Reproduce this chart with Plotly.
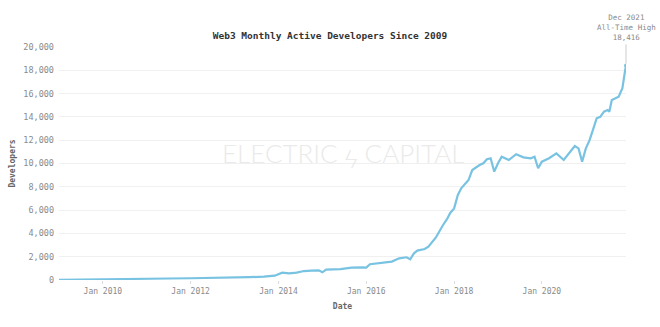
import plotly.graph_objects as go

dates = [
    "2009-01-01", "2009-07-01", "2010-01-01", "2010-07-01", "2011-01-01", "2011-07-01",
    "2012-01-01", "2012-07-01", "2013-01-01", "2013-05-01", "2013-09-01", "2013-12-01",
    "2014-02-01", "2014-04-01", "2014-06-01", "2014-08-01", "2014-10-01", "2014-12-01",
    "2015-01-01", "2015-02-01", "2015-06-01", "2015-09-01", "2015-12-01", "2016-01-01",
    "2016-02-01", "2016-06-01", "2016-08-01", "2016-10-01", "2016-12-01", "2017-01-01",
    "2017-02-01", "2017-03-01", "2017-05-01", "2017-06-01", "2017-08-01", "2017-10-01",
    "2017-11-01", "2017-12-01", "2018-01-01", "2018-02-01", "2018-03-01", "2018-05-01",
    "2018-06-01", "2018-08-01", "2018-09-01", "2018-10-01", "2018-11-01", "2018-12-01",
    "2019-01-01", "2019-02-01", "2019-04-01", "2019-06-01", "2019-08-01", "2019-10-01",
    "2019-11-01", "2019-12-01", "2020-01-01", "2020-03-01", "2020-05-01", "2020-07-01",
    "2020-08-01", "2020-10-01", "2020-11-01", "2020-12-01", "2021-01-01", "2021-02-01",
    "2021-03-01", "2021-04-01", "2021-05-01", "2021-06-01", "2021-07-01", "2021-07-15",
    "2021-08-05", "2021-09-01", "2021-10-01", "2021-11-01", "2021-11-15", "2021-11-22",
    "2021-12-01",
]
developers = [
    20, 30, 50, 70, 100, 130,
    150, 170, 200, 240, 285, 370,
    630, 570, 630, 770, 800, 830,
    660, 890, 940, 1060, 1090, 1060,
    1350, 1520, 1580, 1860, 1950, 1780,
    2290, 2520, 2660, 2860, 3630, 4720,
    5200, 5780, 6150, 7300, 7870, 8580,
    9440, 9870, 10020, 10360, 10450, 9300,
    10020, 10580, 10300, 10800, 10530, 10450,
    10580, 9590, 10160, 10450, 10870, 10300,
    10730, 11500, 11300, 10160, 11300, 12000,
    12880, 13880, 14000, 14450, 14590, 14450,
    15450, 15600, 15740, 16460, 17740, 17880,
    18416,
]

y_ticks = [0, 2000, 4000, 6000, 8000, 10000, 12000, 14000, 16000, 18000, 20000]
x_ticks = ["2010-01-01", "2012-01-01", "2014-01-01", "2016-01-01", "2018-01-01", "2020-01-01"]
x_tick_labels = ["Jan 2010", "Jan 2012", "Jan 2014", "Jan 2016", "Jan 2018", "Jan 2020"]

title_text = "Web3 Monthly Active Developers Since 2009"
peak_label = "Dec 2021<br>All-Time High<br>18,416"
watermark = "ELECTRIC ϟ CAPITAL"

MONO = "DejaVu Sans Mono"
LINE = "#78c2e2"

fig = go.Figure()
fig.add_trace(go.Scatter(
    x=dates, y=developers, mode="lines",
    line=dict(color=LINE, width=2.2),
    hoverinfo="skip",
))
fig.add_trace(go.Scatter(
    x=[dates[-1]], y=[developers[-1]], mode="markers",
    marker=dict(color=LINE, size=4),
    hoverinfo="skip",
))

fig.add_annotation(
    x=dates[-1], y=developers[-1], text=peak_label,
    showarrow=True, arrowhead=0, arrowwidth=1, arrowcolor="#cccccc",
    ax=0, ay=-21, standoff=2, yanchor="bottom",
    font=dict(family=MONO, size=7.5, color="#8a8a8a"),
)
fig.add_annotation(
    xref="paper", yref="paper", x=0.5, y=0.545, text=watermark,
    showarrow=False,
    font=dict(family="Lato", size=26, color="#eaeaea", weight=300),
)

fig.update_layout(
    width=660, height=327,
    margin=dict(l=50, r=34, t=47, b=47),
    paper_bgcolor="white", plot_bgcolor="white",
    showlegend=False,
    title=dict(text="<b>" + title_text + "</b>", x=0.5, xanchor="center",
               y=1 - 36 / 327, yanchor="middle",
               font=dict(family=MONO, size=9.5, color="#333333")),
    font=dict(family=MONO, size=8, color="#8a8a8a"),
)
fig.update_xaxes(
    range=["2009-01-01", "2021-12-01"],
    tickvals=x_ticks, ticktext=x_tick_labels,
    showgrid=False, zeroline=False, showline=False,
    ticks="outside", ticklen=3, tickcolor="#dddddd",
    tickfont=dict(family=MONO, size=8, color="#8a8a8a"),
    title=dict(text="<b>Date</b>", font=dict(family=MONO, size=8, color="#666666"), standoff=8),
)
fig.update_yaxes(
    range=[0, 20000],
    tickvals=y_ticks, tickformat=",d",
    showgrid=True, gridcolor="#f0f0f0", gridwidth=1,
    zeroline=False, showline=False,
    ticks="", ticklabelstandoff=4,
    tickfont=dict(family=MONO, size=8.5, color="#8a8a8a"),
    title=dict(text="<b>Developers</b>", font=dict(family=MONO, size=8, color="#666666"), standoff=6),
)

fig.write_html("out.html")
